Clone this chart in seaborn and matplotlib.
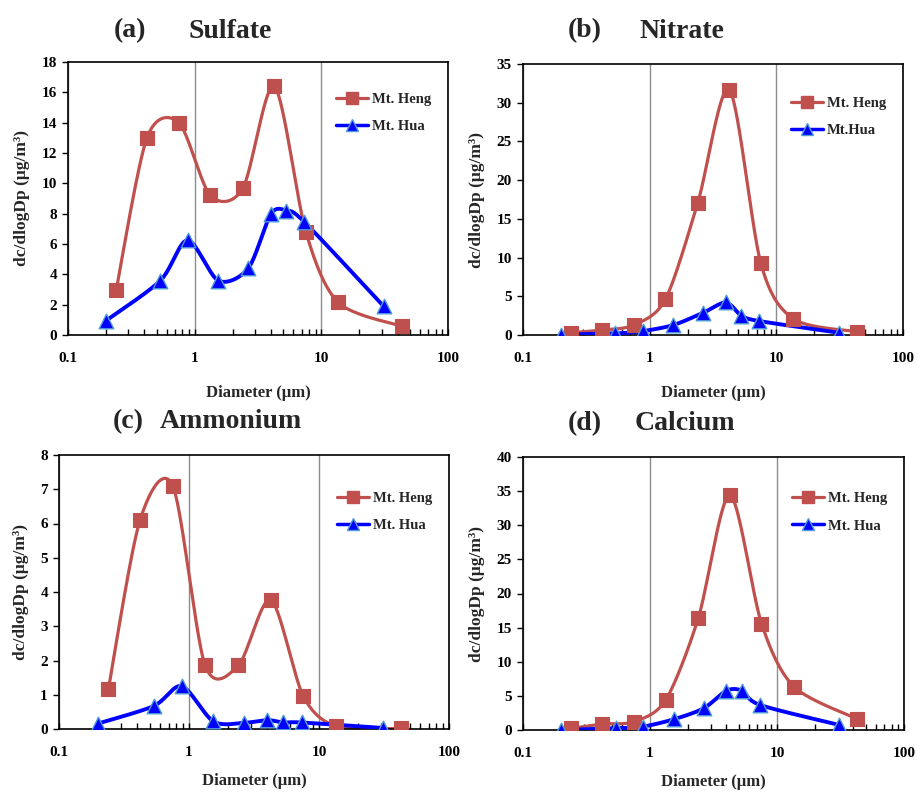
import numpy as np
import pandas as pd
import matplotlib
matplotlib.use("Agg")
import matplotlib.pyplot as plt
import seaborn as sns
from matplotlib.lines import Line2D
from matplotlib.ticker import LogLocator, FixedLocator, NullFormatter

# ---------------- data ----------------
heng_d = [0.24, 0.42, 0.75, 1.33, 2.4, 4.25, 7.55, 13.6, 43.0]
hua_d = [0.2, 0.535, 0.88, 1.54, 2.65, 4.0, 5.3, 7.35, 31.0]

sulfate_heng = [2.95, 13.0, 14.0, 9.2, 9.67, 16.4, 6.8, 2.15, 0.58]
sulfate_hua = [0.95, 3.58, 6.25, 3.58, 4.4, 7.98, 8.2, 7.45, 1.9]

nitrate_heng = [0.3, 0.64, 1.29, 4.6, 17.1, 31.7, 9.24, 2.1, 0.43]
nitrate_hua = [0.05, 0.2, 0.5, 1.29, 2.88, 4.2, 2.5, 1.8, 0.3]

ammonium_heng = [1.17, 6.1, 7.1, 1.86, 1.86, 3.77, 0.97, 0.08, 0.02]
ammonium_hua = [0.16, 0.67, 1.25, 0.22, 0.18, 0.26, 0.19, 0.19, 0.03]

calcium_heng = [0.25, 0.88, 1.22, 4.4, 16.4, 34.4, 15.6, 6.35, 1.6]
calcium_hua = [0.0, 0.25, 0.5, 1.57, 3.18, 5.76, 5.76, 3.67, 0.73]

panel_letters = ["(a)", "(b)", "(c)", "(d)"]
panel_names = ["Sulfate", "Nitrate", "Ammonium", "Calcium"]
hua_labels = ["Mt. Hua", "Mt.Hua", "Mt. Hua", "Mt. Hua"]
heng_label = "Mt. Heng"
y_max = [18, 35, 8, 40]
y_step = [2, 5, 1, 5]
x_ticks = [0.1, 1, 10, 100]
x_ticklabels = ["0.1", "1", "10", "100"]
y_label = "dc/dlogDp (\u03bcg/m\u00b3)"
x_label = "Diameter (\u03bcm)"

heng_vals = [sulfate_heng, nitrate_heng, ammonium_heng, calcium_heng]
hua_vals = [sulfate_hua, nitrate_hua, ammonium_hua, calcium_hua]

HENG_C = "#C0504D"
HUA_C = "#0000FF"
HUA_EDGE = "#4F9BD9"

# ---------------- style ----------------
sns.set_theme(style="ticks")
plt.rcParams["font.family"] = ["Liberation Serif", "DejaVu Serif"]
plt.rcParams["font.weight"] = "bold"
plt.rcParams["axes.labelweight"] = "bold"

W, H = 917, 793
fig = plt.figure(figsize=(W / 100, H / 100), dpi=100)

# axes boxes in pixels: left, right, top, bottom
boxes = [(68, 448, 62, 335), (523, 903, 64, 335), (59, 449, 455, 729), (523, 904, 457, 730)]
legend_anchor = [(0.99, 0.934), (0.99, 0.928), (0.99, 0.915), (0.99, 0.919)]
xlabel_pad = [15, 15, 10, 10]


def smooth_curve(xs, ys, ymax, wpx, hpx, n=40, tension=1 / 7):
    """Excel-like smoothed line (Catmull-Rom Bezier in screen space)."""
    u = (np.log10(np.asarray(xs, float)) + 1) / 3 * wpx
    v = np.asarray(ys, float) / ymax * hpx
    P = np.column_stack([u, v])
    m = len(P)
    out = []
    t = np.linspace(0, 1, n)
    for i in range(m - 1):
        p0 = P[i - 1] if i > 0 else P[i]
        p1 = P[i]
        p2 = P[i + 1]
        p3 = P[i + 2] if i + 2 < m else P[i + 1]
        b1 = p1 + (p2 - p0) * tension
        b2 = p2 - (p3 - p1) * tension
        seg = ((1 - t)[:, None] ** 3 * p1 + 3 * ((1 - t) ** 2 * t)[:, None] * b1
               + 3 * ((1 - t) * t ** 2)[:, None] * b2 + (t ** 3)[:, None] * p2)
        out.append(seg if i == 0 else seg[1:])
    S = np.vstack(out)
    sx = 10 ** (S[:, 0] / wpx * 3 - 1)
    sy = S[:, 1] / hpx * ymax
    return sx, sy


for k in range(4):
    l, r, t, b = boxes[k]
    ax = fig.add_axes([l / W, 1 - b / H, (r - l) / W, (b - t) / H])
    wpx, hpx = r - l, b - t

    for xs, ys, col, lw, z in [(heng_d, heng_vals[k], HENG_C, 2.3, 2), (hua_d, hua_vals[k], HUA_C, 2.8, 3)]:
        sx, sy = smooth_curve(xs, ys, y_max[k], wpx, hpx)
        df = pd.DataFrame({"x": sx, "y": sy})
        sns.lineplot(data=df, x="x", y="y", ax=ax, sort=False, estimator=None,
                     color=col, lw=lw, zorder=z)

    dfh = pd.DataFrame({"x": heng_d, "y": heng_vals[k]})
    sns.scatterplot(data=dfh, x="x", y="y", ax=ax, marker="s", s=95, color=HENG_C,
                    edgecolor=HENG_C, linewidth=0.8, zorder=4)
    dfu = pd.DataFrame({"x": hua_d, "y": hua_vals[k]})
    sns.scatterplot(data=dfu, x="x", y="y", ax=ax, marker="^", s=110, color=HUA_C,
                    edgecolor=HUA_EDGE, linewidth=1.0, zorder=5)

    ax.set_xscale("log")
    ax.set_xlim(0.1, 100)
    ax.set_ylim(0, y_max[k])
    ax.set_yticks(np.arange(0, y_max[k] + 0.001, y_step[k]))
    ax.set_yticklabels([f"{int(v)}" for v in np.arange(0, y_max[k] + 0.001, y_step[k])],
                       fontsize=11, fontweight="bold")
    ax.xaxis.set_major_locator(FixedLocator(x_ticks))
    ax.set_xticklabels(x_ticklabels, fontsize=11, fontweight="bold")
    ax.xaxis.set_minor_locator(LogLocator(base=10, subs=np.arange(2, 10)))
    ax.xaxis.set_minor_formatter(NullFormatter())
    ax.tick_params(axis="x", which="both", direction="in", length=4, width=1, pad=12, colors="black")
    ax.tick_params(axis="y", direction="out", length=4, width=1, pad=4, colors="black")
    ax.grid(False)
    ax.xaxis.grid(True, which="major", color="#8c8c8c", lw=1.0)
    for s in ax.spines.values():
        s.set_visible(True)
        s.set_color("black")
        s.set_linewidth(1.2)
    ax.set_xlabel(x_label, fontsize=12, fontweight="bold", labelpad=xlabel_pad[k])
    ax.set_ylabel(y_label, fontsize=12.5, fontweight="bold", labelpad=8)

    handles = [
        Line2D([], [], color=HENG_C, lw=2.3, marker="s", markersize=8, markerfacecolor=HENG_C,
               markeredgecolor=HENG_C),
        Line2D([], [], color=HUA_C, lw=2.5, marker="^", markersize=8, markerfacecolor=HUA_C,
               markeredgecolor=HUA_EDGE),
    ]
    ax.legend(handles, [heng_label, hua_labels[k]], loc="upper right",
              bbox_to_anchor=legend_anchor[k], frameon=False, handlelength=2.2,
              handletextpad=0.25, labelspacing=0.95, prop={"size": 10.5, "weight": "bold"})

# titles
title_pos = [(130, 188, 31), (585, 640, 31), (128, 160, 422), (585, 635, 424)]
for k in range(4):
    cx, lx, y = title_pos[k]
    fig.text(cx / W, 1 - y / H, panel_letters[k], ha="center", va="center",
             fontsize=20, fontweight="bold")
    fig.text(lx / W, 1 - y / H, panel_names[k], ha="left", va="center",
             fontsize=20, fontweight="bold")

fig.savefig("out.png", dpi=100)
